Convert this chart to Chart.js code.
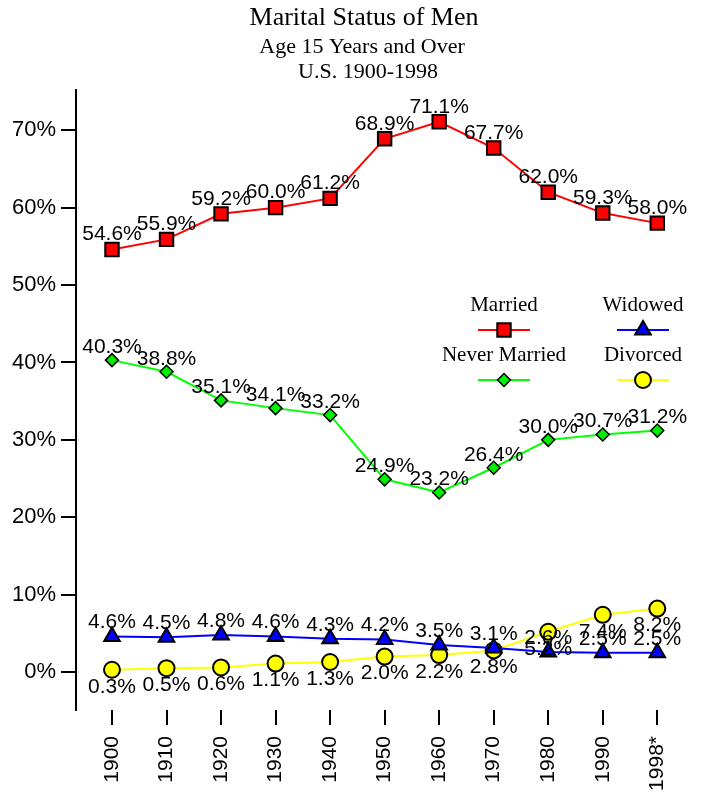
<!DOCTYPE html>
<html lang="en">
<head>
<meta charset="UTF-8">
<title>Marital Status of Men</title>
<script src="https://cdn.jsdelivr.net/npm/chart.js"></script>
<style>
  body { margin: 0; background: #fff; }
  #chart { display: block; }
</style>
</head>
<body>
<canvas id="chart" width="705" height="795"></canvas>
<script>
// values (percent of men 15+)
const years = ['1900', '1910', '1920', '1930', '1940', '1950', '1960', '1970', '1980', '1990', '1998*'];
const married = [54.6, 55.9, 59.2, 60.0, 61.2, 68.9, 71.1, 67.7, 62.0, 59.3, 58.0];
const neverMarried = [40.3, 38.8, 35.1, 34.1, 33.2, 24.9, 23.2, 26.4, 30.0, 30.7, 31.2];
const widowed = [4.6, 4.5, 4.8, 4.6, 4.3, 4.2, 3.5, 3.1, 2.6, 2.5, 2.5];
const divorced = [0.3, 0.5, 0.6, 1.1, 1.3, 2.0, 2.2, 2.8, 5.2, 7.4, 8.2];
const yTicks = [0, 10, 20, 30, 40, 50, 60, 70];

function toPoints(values) {
    return values.map((v, i) => ({ x: i, y: v }));
}

const sans = '"Liberation Sans", Arial, sans-serif';
const serif = '"Liberation Serif", "Times New Roman", serif';

// title block, drawn by hand so the three lines can sit where the original has them
const titleText = {
    id: 'titleText',
    afterDraw(chart) {
        const ctx = chart.ctx;
        ctx.save();
        ctx.fillStyle = '#000';
        ctx.textAlign = 'center';
        ctx.textBaseline = 'middle';
        ctx.font = '26px ' + serif;
        ctx.fillText('Marital Status of Men', 364, 18);
        ctx.font = '22px ' + serif;
        ctx.fillText('Age 15 Years and Over', 362, 47);
        ctx.fillText('U.S. 1900-1998', 368, 72);
        ctx.restore();
    }
};

// percent label next to every point
const valueLabels = {
    id: 'valueLabels',
    afterDatasetsDraw(chart) {
        const ctx = chart.ctx;
        ctx.save();
        ctx.font = '21px ' + sans;
        ctx.fillStyle = '#000';
        ctx.textAlign = 'center';
        ctx.textBaseline = 'middle';
        chart.data.datasets.forEach((ds, i) => {
            chart.getDatasetMeta(i).data.forEach((pt, j) => {
                ctx.fillText(ds.data[j].y.toFixed(1) + '%', pt.x, pt.y + ds.labelShift);
            });
        });
        ctx.restore();
    }
};

// legend in two columns inside the plot
const legendBox = {
    id: 'legendBox',
    afterDraw(chart) {
        const ctx = chart.ctx;
        const spots = [[504, 305], [504, 355], [643, 305], [643, 355]];
        chart.data.datasets.forEach((ds, i) => {
            const [cx, cy] = spots[i];
            ctx.save();
            ctx.fillStyle = '#000';
            ctx.textAlign = 'center';
            ctx.textBaseline = 'middle';
            ctx.font = '21px ' + serif;
            ctx.fillText(ds.label, cx, cy);
            ctx.strokeStyle = ds.borderColor;
            ctx.lineWidth = 2;
            ctx.beginPath();
            ctx.moveTo(cx - 26, cy + 25);
            ctx.lineTo(cx + 26, cy + 25);
            ctx.stroke();
            ctx.fillStyle = ds.pointBackgroundColor;
            ctx.strokeStyle = '#000';
            ctx.lineWidth = ds.pointBorderWidth;
            Chart.helpers.drawPoint(ctx, {
                pointStyle: ds.pointStyle,
                radius: ds.pointRadius,
                borderWidth: ds.pointBorderWidth
            }, cx, cy + 25);
            ctx.restore();
        });
    }
};

const ctx = document.getElementById('chart').getContext('2d');
new Chart(ctx, {
    type: 'line',
    data: {
        datasets: [
            {
                label: 'Married',
                data: toPoints(married),
                borderColor: '#ff0000',
                pointBackgroundColor: '#ff0000',
                pointStyle: 'rect',
                pointRadius: 9.5,
                pointBorderWidth: 2,
                labelShift: -15
            },
            {
                label: 'Never Married',
                data: toPoints(neverMarried),
                borderColor: '#00ff00',
                pointBackgroundColor: '#00ee00',
                pointStyle: 'rectRot',
                pointRadius: 6.5,
                pointBorderWidth: 1.5,
                labelShift: -13
            },
            {
                label: 'Widowed',
                data: toPoints(widowed),
                borderColor: '#0000ff',
                pointBackgroundColor: '#0000ff',
                pointStyle: 'triangle',
                pointRadius: 9,
                pointBorderWidth: 2,
                labelShift: -14
            },
            {
                label: 'Divorced',
                data: toPoints(divorced),
                borderColor: '#ffff00',
                pointBackgroundColor: '#ffff00',
                pointStyle: 'circle',
                pointRadius: 8,
                pointBorderWidth: 2,
                labelShift: 17
            }
        ]
    },
    options: {
        responsive: false,
        animation: false,
        layout: { padding: { top: 90, right: 15, left: 0, bottom: 0 } },
        plugins: {
            legend: { display: false },
            title: { display: false },
            tooltip: { enabled: false }
        },
        elements: {
            line: { borderWidth: 2, tension: 0 },
            point: { borderColor: '#000', hoverRadius: 0 }
        },
        datasets: {
            line: { pointBorderColor: '#000' }
        },
        scales: {
            x: {
                type: 'linear',
                min: -0.66,
                max: 10.6,
                afterBuildTicks(scale) {
                    scale.ticks = years.map((_, i) => ({ value: i }));
                },
                afterFit(scale) { scale.height = 85; },
                border: { display: false },
                grid: { drawOnChartArea: false, tickLength: 15, color: '#000', lineWidth: 2 },
                ticks: {
                    autoSkip: false,
                    minRotation: 90,
                    maxRotation: 90,
                    padding: 11,
                    color: '#000',
                    font: { family: sans, size: 21 },
                    callback: v => years[v]
                }
            },
            y: {
                min: -4.9,
                max: 75.2,
                afterBuildTicks(scale) {
                    scale.ticks = yTicks.map(v => ({ value: v }));
                },
                afterFit(scale) { scale.width = 76; },
                border: { color: '#000', width: 2 },
                grid: { drawOnChartArea: false, tickLength: 15, color: '#000', lineWidth: 2 },
                ticks: {
                    padding: 5,
                    color: '#000',
                    font: { family: sans, size: 22 },
                    callback: v => v + '%'
                }
            }
        }
    },
    plugins: [titleText, valueLabels, legendBox]
});
</script>
</body>
</html>
